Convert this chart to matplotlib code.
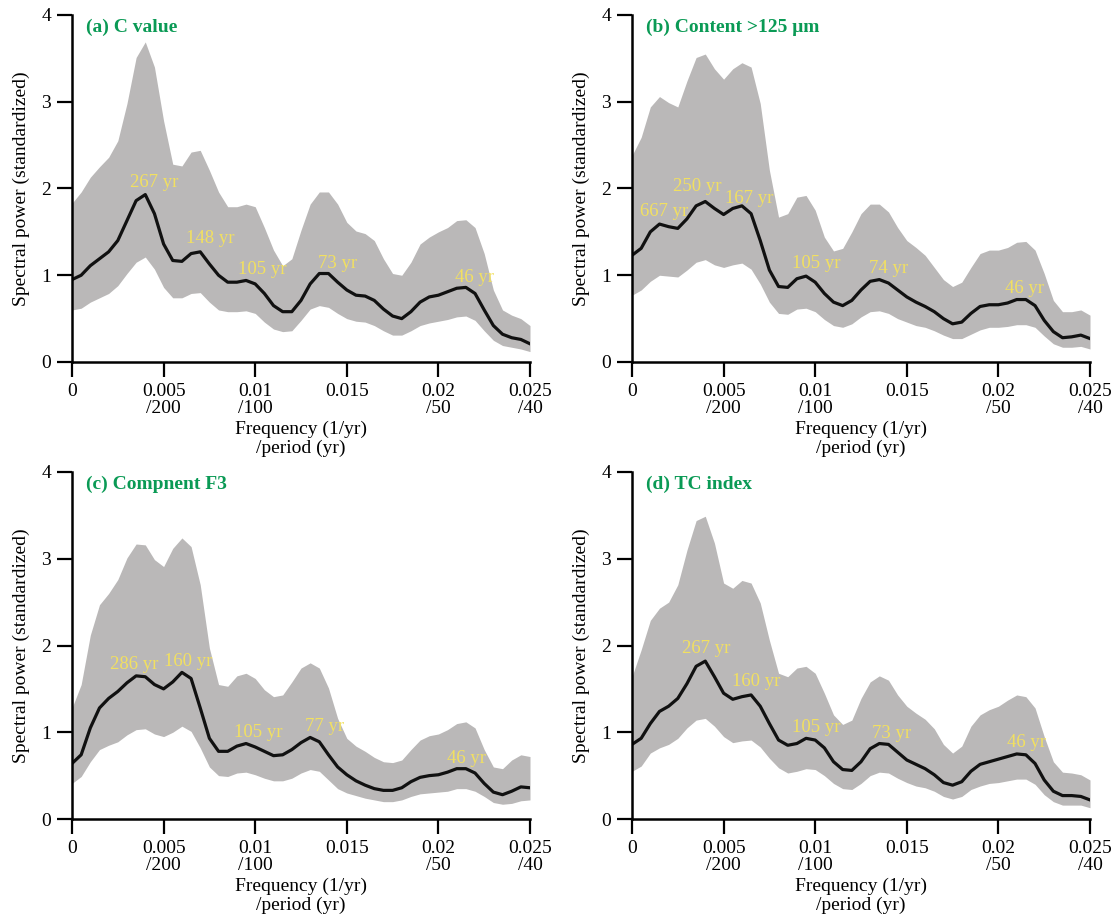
import numpy as np
import matplotlib
matplotlib.use('Agg')
import matplotlib.pyplot as plt

plt.rcParams['font.family'] = ['Liberation Serif', 'DejaVu Serif']

# frequency grid (1/yr), one value every 0.0005
freq = np.linspace(0, 0.025, 51)

# (a) C value
a_mean = [0.95, 1.00, 1.11, 1.19, 1.27, 1.40, 1.63, 1.86, 1.93, 1.71, 1.36, 1.17, 1.16, 1.25, 1.27, 1.13, 1.00,
          0.92, 0.92, 0.94, 0.90, 0.79, 0.65, 0.58, 0.58, 0.71, 0.90, 1.02, 1.02, 0.92, 0.83, 0.77, 0.76, 0.71,
          0.61, 0.53, 0.50, 0.58, 0.69, 0.75, 0.77, 0.81, 0.85, 0.86, 0.79, 0.60, 0.42, 0.32, 0.28, 0.26, 0.21]
a_hi = [1.83, 1.96, 2.13, 2.25, 2.36, 2.55, 2.98, 3.51, 3.69, 3.40, 2.78, 2.28, 2.26, 2.42, 2.44, 2.21, 1.96,
        1.79, 1.79, 1.82, 1.79, 1.55, 1.29, 1.11, 1.19, 1.52, 1.82, 1.96, 1.96, 1.82, 1.61, 1.51, 1.48, 1.40,
        1.19, 1.02, 1.00, 1.15, 1.36, 1.44, 1.50, 1.55, 1.63, 1.64, 1.55, 1.25, 0.83, 0.60, 0.54, 0.50, 0.42]
a_lo = [0.60, 0.62, 0.69, 0.74, 0.79, 0.88, 1.02, 1.15, 1.21, 1.07, 0.86, 0.74, 0.74, 0.79, 0.80, 0.69, 0.60,
        0.58, 0.58, 0.59, 0.56, 0.46, 0.38, 0.35, 0.36, 0.48, 0.61, 0.65, 0.63, 0.56, 0.50, 0.47, 0.46, 0.42,
        0.36, 0.31, 0.31, 0.36, 0.42, 0.45, 0.47, 0.49, 0.52, 0.53, 0.48, 0.36, 0.25, 0.19, 0.17, 0.15, 0.12]

# (b) Content >125 um
b_mean = [1.23, 1.31, 1.50, 1.59, 1.56, 1.54, 1.65, 1.80, 1.85, 1.77, 1.70, 1.77, 1.80, 1.71, 1.40, 1.06, 0.87,
          0.86, 0.96, 0.99, 0.92, 0.79, 0.69, 0.65, 0.71, 0.83, 0.93, 0.95, 0.91, 0.83, 0.75, 0.69, 0.64, 0.58,
          0.50, 0.44, 0.46, 0.56, 0.64, 0.66, 0.66, 0.68, 0.72, 0.72, 0.65, 0.48, 0.35, 0.28, 0.29, 0.31, 0.27]
b_hi = [2.38, 2.59, 2.94, 3.06, 2.99, 2.94, 3.24, 3.51, 3.55, 3.38, 3.26, 3.38, 3.45, 3.40, 2.98, 2.21, 1.67,
        1.71, 1.90, 1.92, 1.75, 1.44, 1.28, 1.31, 1.50, 1.71, 1.82, 1.82, 1.73, 1.55, 1.40, 1.32, 1.23, 1.09,
        0.95, 0.87, 0.92, 1.09, 1.25, 1.29, 1.29, 1.32, 1.38, 1.39, 1.29, 1.02, 0.71, 0.58, 0.58, 0.60, 0.54]
b_lo = [0.77, 0.83, 0.93, 1.00, 0.99, 0.98, 1.06, 1.15, 1.18, 1.12, 1.09, 1.12, 1.14, 1.07, 0.90, 0.69, 0.56,
        0.55, 0.61, 0.62, 0.58, 0.49, 0.42, 0.40, 0.44, 0.52, 0.58, 0.59, 0.56, 0.50, 0.46, 0.42, 0.40, 0.36,
        0.31, 0.27, 0.27, 0.32, 0.37, 0.40, 0.40, 0.41, 0.43, 0.43, 0.40, 0.30, 0.21, 0.17, 0.17, 0.18, 0.15]

# (c) Compnent F3
c_mean = [0.64, 0.74, 1.05, 1.28, 1.39, 1.47, 1.57, 1.65, 1.64, 1.55, 1.50, 1.58, 1.69, 1.62, 1.28, 0.93, 0.78,
          0.78, 0.84, 0.87, 0.83, 0.78, 0.73, 0.74, 0.80, 0.88, 0.94, 0.89, 0.74, 0.60, 0.51, 0.44, 0.39, 0.35,
          0.33, 0.33, 0.36, 0.43, 0.48, 0.50, 0.51, 0.54, 0.58, 0.58, 0.53, 0.41, 0.31, 0.28, 0.32, 0.37, 0.36]
c_hi = [1.28, 1.55, 2.12, 2.47, 2.60, 2.76, 3.01, 3.17, 3.16, 2.99, 2.91, 3.12, 3.24, 3.14, 2.70, 1.97, 1.55,
        1.53, 1.65, 1.68, 1.62, 1.49, 1.41, 1.43, 1.58, 1.74, 1.80, 1.74, 1.51, 1.16, 0.93, 0.84, 0.78, 0.71,
        0.66, 0.65, 0.68, 0.80, 0.91, 0.96, 0.98, 1.03, 1.10, 1.12, 1.05, 0.80, 0.60, 0.58, 0.68, 0.74, 0.72]
c_lo = [0.41, 0.49, 0.66, 0.80, 0.85, 0.89, 0.97, 1.03, 1.04, 0.98, 0.95, 1.00, 1.07, 1.01, 0.82, 0.60, 0.50,
        0.49, 0.53, 0.54, 0.51, 0.47, 0.44, 0.44, 0.47, 0.53, 0.57, 0.55, 0.45, 0.35, 0.30, 0.27, 0.24, 0.22,
        0.20, 0.20, 0.22, 0.26, 0.29, 0.30, 0.31, 0.32, 0.35, 0.35, 0.32, 0.26, 0.19, 0.17, 0.18, 0.21, 0.22]

# (d) TC index
d_mean = [0.86, 0.93, 1.10, 1.24, 1.30, 1.39, 1.56, 1.76, 1.82, 1.64, 1.45, 1.38, 1.41, 1.43, 1.30, 1.10, 0.91,
          0.85, 0.87, 0.93, 0.91, 0.82, 0.66, 0.57, 0.56, 0.66, 0.81, 0.87, 0.86, 0.77, 0.68, 0.63, 0.58, 0.51,
          0.42, 0.39, 0.43, 0.55, 0.63, 0.66, 0.69, 0.72, 0.75, 0.74, 0.64, 0.45, 0.32, 0.27, 0.27, 0.26, 0.22]
d_hi = [1.64, 1.95, 2.29, 2.43, 2.50, 2.70, 3.10, 3.44, 3.49, 3.18, 2.72, 2.66, 2.75, 2.72, 2.49, 2.06, 1.68,
        1.64, 1.74, 1.76, 1.68, 1.45, 1.20, 1.09, 1.14, 1.39, 1.58, 1.65, 1.60, 1.43, 1.30, 1.22, 1.15, 1.04,
        0.86, 0.76, 0.84, 1.07, 1.20, 1.26, 1.30, 1.37, 1.43, 1.41, 1.28, 0.95, 0.66, 0.54, 0.53, 0.51, 0.45]
d_lo = [0.55, 0.61, 0.76, 0.82, 0.86, 0.93, 1.05, 1.14, 1.16, 1.07, 0.95, 0.88, 0.90, 0.91, 0.83, 0.70, 0.59,
        0.53, 0.55, 0.58, 0.57, 0.50, 0.41, 0.35, 0.34, 0.41, 0.50, 0.54, 0.53, 0.47, 0.42, 0.38, 0.36, 0.32,
        0.26, 0.23, 0.26, 0.34, 0.38, 0.41, 0.42, 0.44, 0.46, 0.46, 0.40, 0.28, 0.20, 0.16, 0.16, 0.16, 0.13]

titles = ['(a) C value', '(b) Content >125 μm', '(c) Compnent F3', '(d) TC index']

# period labels: (text, freq, power)
a_peaks = [('267 yr', 0.00446, 2.07), ('148 yr', 0.00754, 1.42), ('105 yr', 0.01036, 1.07),
           ('73 yr', 0.01452, 1.13), ('46 yr', 0.02199, 0.97)]
b_peaks = [('667 yr', 0.00173, 1.74), ('250 yr', 0.00355, 2.02), ('167 yr', 0.00641, 1.89),
           ('105 yr', 0.01005, 1.14), ('74 yr', 0.01403, 1.08), ('46 yr', 0.02144, 0.85)]
c_peaks = [('286 yr', 0.00341, 1.78), ('160 yr', 0.00632, 1.82), ('105 yr', 0.01015, 1.00),
           ('77 yr', 0.01379, 1.07), ('46 yr', 0.02153, 0.70)]
d_peaks = [('267 yr', 0.00406, 1.97), ('160 yr', 0.00679, 1.58), ('105 yr', 0.01004, 1.05),
           ('73 yr', 0.01418, 0.98), ('46 yr', 0.02155, 0.88)]

xticks = [0, 0.005, 0.01, 0.015, 0.02, 0.025]
xticklabels = ['0', '0.005\n/200', '0.01\n/100', '0.015', '0.02\n/50', '0.025\n/40']

panels = [(a_mean, a_hi, a_lo, a_peaks), (b_mean, b_hi, b_lo, b_peaks),
          (c_mean, c_hi, c_lo, c_peaks), (d_mean, d_hi, d_lo, d_peaks)]

fig = plt.figure(figsize=(11.15, 9.24), dpi=100)
W, H = 1115, 924
# axes boxes in pixels: left, right, top, bottom
boxes = [(72, 530, 15, 362), (632, 1090, 15, 362), (72, 530, 472, 819), (632, 1090, 472, 819)]

fs = 14
for i, (mean, hi, lo, peaks) in enumerate(panels):
    l, r, t, b = boxes[i]
    ax = fig.add_axes([l / W, 1 - b / H, (r - l) / W, (b - t) / H])
    ax.fill_between(freq, lo, hi, color='#bab8b8', lw=0)
    ax.plot(freq, mean, color='#111111', lw=2.3, solid_joinstyle='round')
    for txt, fx, fy in peaks:
        ax.text(fx, fy, txt, color='#f2e060', fontsize=13.5, ha='center', va='center')
    ax.text(0.031, 0.965, titles[i], transform=ax.transAxes, color='#0a9a55',
            fontsize=14, fontweight='bold', ha='left', va='center')
    ax.set_xlim(0, 0.025)
    ax.set_ylim(0, 4)
    ax.set_xticks(xticks)
    ax.set_xticklabels(xticklabels, fontsize=fs, linespacing=1.0)
    ax.set_yticks([0, 1, 2, 3, 4])
    ax.set_yticklabels(['0', '1', '2', '3', '4'], fontsize=fs)
    ax.tick_params(length=11, width=1.6, direction='out', pad=4)
    for s in ['top', 'right']:
        ax.spines[s].set_visible(False)
    for s in ['left', 'bottom']:
        ax.spines[s].set_linewidth(1.8)
    ax.set_xlabel('Frequency (1/yr)\n/period (yr)', fontsize=fs, linespacing=1.1, labelpad=3)
    ax.set_ylabel('Spectral power (standardized)', fontsize=fs, labelpad=8)

fig.savefig('out.png', dpi=100)
